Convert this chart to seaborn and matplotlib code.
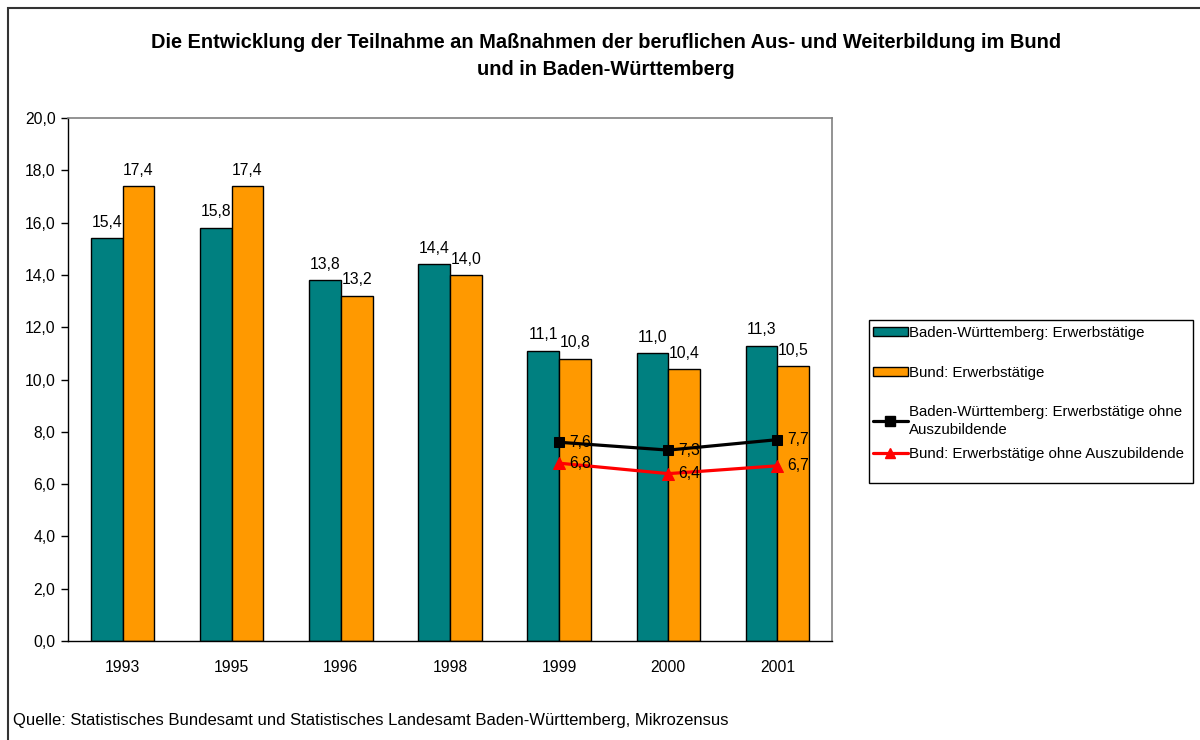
import matplotlib
matplotlib.use("Agg")
import matplotlib.pyplot as plt
import seaborn as sns
import pandas as pd
from matplotlib.patches import Patch, Rectangle
from matplotlib.lines import Line2D

years = ["1993", "1995", "1996", "1998", "1999", "2000", "2001"]
bw_erw = [15.4, 15.8, 13.8, 14.4, 11.1, 11.0, 11.3]
bund_erw = [17.4, 17.4, 13.2, 14.0, 10.8, 10.4, 10.5]
line_years = ["1999", "2000", "2001"]
bw_ohne = [7.6, 7.3, 7.7]
bund_ohne = [6.8, 6.4, 6.7]

s_bw = "Baden-Württemberg: Erwerbstätige"
s_bund = "Bund: Erwerbstätige"
s_bw_ohne = "Baden-Württemberg: Erwerbstätige ohne\nAuszubildende"
s_bund_ohne = "Bund: Erwerbstätige ohne Auszubildende"

title = ("Die Entwicklung der Teilnahme an Maßnahmen der beruflichen Aus- und Weiterbildung im Bund\n"
         "und in Baden-Württemberg")
source = "Quelle: Statistisches Bundesamt und Statistisches Landesamt Baden-Württemberg, Mikrozensus"

c_teal = "#008080"
c_orange = "#FF9900"

sns.set_theme(style="white")
plt.rcParams["font.family"] = ["Liberation Sans", "DejaVu Sans"]
plt.rcParams["text.color"] = "black"
plt.rcParams["xtick.color"] = "black"
plt.rcParams["ytick.color"] = "black"
plt.rcParams["axes.labelcolor"] = "black"

FS = 11.3

W, H = 1200, 740
fig = plt.figure(figsize=(W / 100, H / 100), dpi=100)
ax = fig.add_axes([68 / W, 1 - 641 / H, (832 - 68) / W, (641 - 118) / H])

df = pd.DataFrame({
    "Jahr": years * 2,
    "Wert": bw_erw + bund_erw,
    "Serie": [s_bw] * len(years) + [s_bund] * len(years),
})
sns.barplot(data=df, x="Jahr", y="Wert", hue="Serie", order=years,
            hue_order=[s_bw, s_bund], palette=[c_teal, c_orange],
            width=0.58, gap=0, edgecolor="black", linewidth=1.0,
            saturation=1, legend=False, ax=ax)

for cont in ax.containers:
    ax.bar_label(cont, labels=[f"{v:.1f}".replace(".", ",") for v in cont.datavalues],
                 padding=6, fontsize=FS, color="black")

xpos = [years.index(y) for y in line_years]
sns.lineplot(x=xpos, y=bw_ohne, color="black", marker="s", markersize=7.5,
             linewidth=2.3, markeredgecolor="black", ax=ax)
sns.lineplot(x=xpos, y=bund_ohne, color="#FF0000", marker="^", markersize=9,
             linewidth=2.3, markeredgecolor="#FF0000", ax=ax)
for x, v in zip(xpos, bw_ohne):
    ax.annotate(f"{v:.1f}".replace(".", ","), (x, v), xytext=(7, 0),
                textcoords="offset points", va="center", ha="left", fontsize=FS)
for x, v in zip(xpos, bund_ohne):
    ax.annotate(f"{v:.1f}".replace(".", ","), (x, v), xytext=(7, 0),
                textcoords="offset points", va="center", ha="left", fontsize=FS)

ax.set_xlim(-0.5, len(years) - 0.5)
ax.set_ylim(0, 20)
ax.set_yticks([i * 2 for i in range(11)])
ax.set_yticklabels([f"{i * 2:.1f}".replace(".", ",") for i in range(11)], fontsize=FS)
ax.set_xticks(range(len(years)))
ax.set_xticklabels(years, fontsize=FS)
ax.set_xticks([i - 0.5 for i in range(len(years) + 1)], minor=True)
ax.tick_params(axis="x", which="major", length=0, pad=14)
ax.tick_params(axis="x", which="minor", length=5, width=1, color="black", direction="out")
ax.tick_params(axis="y", length=5, width=1, color="black", direction="out", left=True, pad=4)
ax.set_xlabel("")
ax.set_ylabel("")
ax.grid(False)
for side in ["left", "bottom"]:
    ax.spines[side].set_color("black")
    ax.spines[side].set_linewidth(1)
for side in ["top", "right"]:
    ax.spines[side].set_color("#808080")
    ax.spines[side].set_linewidth(1.2)

handles = [
    Patch(facecolor=c_teal, edgecolor="black", linewidth=1),
    Patch(facecolor=c_orange, edgecolor="black", linewidth=1),
    Line2D([], [], color="black", marker="s", markersize=6.5, linewidth=2.3),
    Line2D([], [], color="#FF0000", marker="^", markersize=7.5, linewidth=2.3),
]
labels = [s_bw, s_bund, s_bw_ohne, s_bund_ohne]
entry_y = [333, 373, 421, 454]
for h, lab, yy in zip(handles, labels, entry_y):
    lg = fig.legend([h], [lab], loc="center left", bbox_to_anchor=(873 / W, 1 - yy / H),
                    frameon=False, fontsize=10.8, handlelength=2.3, handleheight=0.6,
                    handletextpad=0.1, borderpad=0, borderaxespad=0)
    for t in lg.get_texts():
        t.set_linespacing(1.3)
fig.add_artist(Rectangle((869 / W, 1 - 483 / H), (1193 - 869) / W, (483 - 320) / H,
                         transform=fig.transFigure, fill=False, edgecolor="black",
                         linewidth=1))

fig.text(606 / W, 1 - 56 / H, title, ha="center", va="center", fontsize=14.4,
         fontweight="bold", linespacing=1.5)
fig.text(13 / W, 1 - 720 / H, source, ha="left", va="center", fontsize=12)

fig.add_artist(Rectangle((8 / W, -0.1), 1.2, 1 - 8 / H + 0.1, transform=fig.transFigure,
                         fill=False, edgecolor="#333333", linewidth=1.5))

fig.savefig("out.png", dpi=100)
